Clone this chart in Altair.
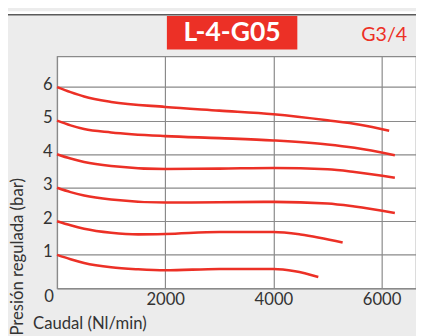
import altair as alt
import pandas as pd

# Curve data (flow Nl/min, regulated pressure bar)
c6_x = [0, 250, 500, 1000, 2000, 3000, 4000, 5000, 5600, 6140]
c6_y = [6.0, 5.85, 5.72, 5.56, 5.41, 5.30, 5.19, 5.01, 4.88, 4.70]
c5_x = [0, 250, 500, 1000, 2000, 3000, 4000, 5000, 5500, 6245]
c5_y = [5.0, 4.86, 4.75, 4.65, 4.54, 4.48, 4.41, 4.29, 4.19, 3.97]
c4_x = [0, 250, 500, 1000, 2000, 3000, 4000, 5000, 5500, 6245]
c4_y = [4.0, 3.87, 3.77, 3.65, 3.56, 3.57, 3.59, 3.55, 3.47, 3.30]
c3_x = [0, 250, 500, 1000, 2000, 3000, 4000, 5000, 5500, 6245]
c3_y = [3.0, 2.87, 2.77, 2.65, 2.56, 2.57, 2.58, 2.53, 2.44, 2.25]
c2_x = [0, 250, 500, 1000, 1500, 2000, 3000, 4000, 4500, 5280]
c2_y = [2.0, 1.88, 1.78, 1.66, 1.61, 1.62, 1.68, 1.68, 1.61, 1.37]
c1_x = [0, 250, 500, 1000, 1500, 2000, 3000, 4000, 4400, 4830]
c1_y = [1.0, 0.87, 0.76, 0.63, 0.57, 0.54, 0.58, 0.58, 0.51, 0.34]

x_ticks = [2000, 4000, 6000]
y_ticks = [1, 2, 3, 4, 5, 6]

rows = []
for name, xs, ys in [("6", c6_x, c6_y), ("5", c5_x, c5_y), ("4", c4_x, c4_y),
                     ("3", c3_x, c3_y), ("2", c2_x, c2_y), ("1", c1_x, c1_y)]:
    for a, b in zip(xs, ys):
        rows.append({"curve": name, "flow": a, "pressure": b})
df = pd.DataFrame(rows)
one = pd.DataFrame({"a": [0]})

RED = "#ec3026"
FONT = "Lato"
W, H = 366, 236.7

lines = alt.Chart(df).mark_line(color=RED, strokeWidth=2.6, interpolate="monotone").encode(
    x=alt.X("flow:Q", scale=alt.Scale(domain=[0, 6636], nice=False),
            axis=alt.Axis(values=x_ticks, format="d", title="Caudal (Nl/min)", titleX=-25, titleY=36,
                          titleAlign="left", titleBaseline="middle", labelPadding=3)),
    y=alt.Y("pressure:Q", scale=alt.Scale(domain=[0, 6.92], nice=False),
            axis=alt.Axis(values=y_ticks, format="d", title="Presión regulada (bar)", titleX=-40, titleY=204,
                          titleAngle=-90, titleAlign="center", titleBaseline="middle",
                          labelOffset=-3, labelPadding=5)),
    detail="curve:N",
)

top_white = alt.Chart(one).mark_rect(color="white").encode(
    x=alt.value(-50), x2=alt.value(W), y=alt.value(-46), y2=alt.value(-42.5))
top_line = alt.Chart(one).mark_rule(color="#5a5a5a", strokeWidth=1.5).encode(
    x=alt.value(-50), x2=alt.value(W), y=alt.value(-42.3))
box = alt.Chart(one).mark_rect(color=RED).encode(
    x=alt.value(112), x2=alt.value(245), y=alt.value(-41), y2=alt.value(-7))
box_text = alt.Chart(one).mark_text(text="L-4-G05", color="white", font=FONT, fontWeight="bold",
                                    fontSize=27, align="center", baseline="middle").encode(
    x=alt.value(178.5), y=alt.value(-23.5))
g_text = alt.Chart(one).mark_text(text="G3/4", color=RED, font=FONT, fontSize=20,
                                  align="right", baseline="middle").encode(
    x=alt.value(357), y=alt.value(-21.5))
zero_text = alt.Chart(one).mark_text(text="0", color="#333333", font=FONT, fontSize=17,
                                     align="center", baseline="middle").encode(
    x=alt.value(-8), y=alt.value(246))

chart = alt.layer(top_white, top_line, box, box_text, g_text, lines, zero_text).properties(
    width=W, height=H, autosize="none",
    padding={"left": 50, "top": 46, "right": 0, "bottom": 45},
    background="#ececec",
).configure_view(fill="white", stroke="#8a8a8a", strokeWidth=1.2).configure_axis(
    grid=True, gridColor="#8a8a8a", gridWidth=1.2, gridOpacity=1,
    domainColor="#8a8a8a", domainWidth=1.2, ticks=False,
    labelFont=FONT, labelFontSize=17, labelColor="#333333",
    titleFont=FONT, titleFontSize=17, titleColor="#333333", titleFontWeight="normal",
)

chart.save("out.html", embed_options={"renderer": "svg", "actions": False})
